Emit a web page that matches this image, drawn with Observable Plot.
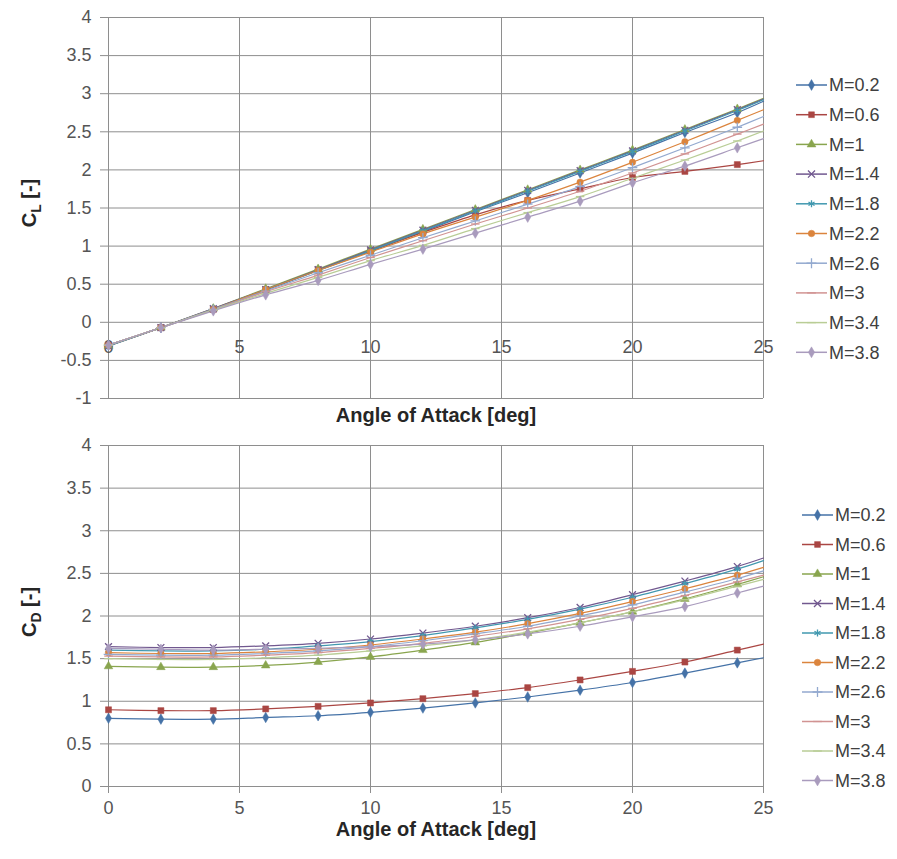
<!DOCTYPE html>
<html><head><meta charset="utf-8">
<script src="https://cdn.jsdelivr.net/npm/d3@7"></script>
<script src="https://cdn.jsdelivr.net/npm/@observablehq/plot@0.6"></script>
<style>
body{margin:0;background:#fff;}
#chart{width:897px;height:859px;position:relative;background:#fff;}
#chart svg{display:block;}
</style>
</head><body><div id="chart"></div>
<script>
// ---- data ----
const ALPHA = [0, 2, 4, 6, 8, 10, 12, 14, 16, 18, 20, 22, 24, 25];
const MACH = ["M=0.2", "M=0.6", "M=1", "M=1.4", "M=1.8", "M=2.2", "M=2.6", "M=3", "M=3.4", "M=3.8"];
const X_TICKS = [0, 5, 10, 15, 20, 25];
const Y_TICKS_CL = [-1, -0.5, 0, 0.5, 1, 1.5, 2, 2.5, 3, 3.5, 4];
const Y_TICKS_CD = [0, 0.5, 1, 1.5, 2, 2.5, 3, 3.5, 4];

const CL_02 = [-0.30, -0.07, 0.17, 0.42, 0.68, 0.93, 1.19, 1.45, 1.70, 1.96, 2.22, 2.49, 2.75, 2.90];
const CL_06 = [-0.30, -0.07, 0.17, 0.43, 0.69, 0.94, 1.18, 1.41, 1.60, 1.75, 1.90, 1.98, 2.07, 2.12];
const CL_10 = [-0.31, -0.07, 0.18, 0.44, 0.70, 0.96, 1.22, 1.48, 1.74, 2.00, 2.26, 2.53, 2.80, 2.94];
const CL_14 = [-0.31, -0.07, 0.18, 0.43, 0.69, 0.95, 1.21, 1.47, 1.73, 1.99, 2.25, 2.52, 2.79, 2.93];
const CL_18 = [-0.31, -0.07, 0.17, 0.43, 0.68, 0.94, 1.20, 1.46, 1.72, 1.98, 2.24, 2.51, 2.78, 2.92];
const CL_22 = [-0.30, -0.07, 0.17, 0.43, 0.68, 0.92, 1.16, 1.38, 1.60, 1.84, 2.10, 2.37, 2.65, 2.79];
const CL_26 = [-0.30, -0.07, 0.17, 0.41, 0.65, 0.88, 1.11, 1.33, 1.55, 1.78, 2.03, 2.29, 2.56, 2.70];
const CL_30 = [-0.30, -0.07, 0.16, 0.40, 0.62, 0.85, 1.07, 1.29, 1.50, 1.72, 1.96, 2.21, 2.47, 2.60];
const CL_34 = [-0.30, -0.07, 0.16, 0.38, 0.59, 0.81, 1.01, 1.23, 1.44, 1.65, 1.89, 2.13, 2.38, 2.51];
const CL_38 = [-0.30, -0.07, 0.15, 0.36, 0.55, 0.76, 0.96, 1.17, 1.38, 1.59, 1.83, 2.05, 2.29, 2.41];

const CD_02 = [0.80, 0.79, 0.79, 0.81, 0.83, 0.87, 0.92, 0.98, 1.05, 1.13, 1.22, 1.33, 1.45, 1.51];
const CD_06 = [0.90, 0.89, 0.89, 0.91, 0.94, 0.98, 1.03, 1.09, 1.16, 1.25, 1.35, 1.46, 1.60, 1.67];
const CD_10 = [1.41, 1.40, 1.40, 1.42, 1.46, 1.52, 1.60, 1.69, 1.80, 1.92, 2.05, 2.20, 2.37, 2.46];
const CD_14 = [1.64, 1.63, 1.63, 1.65, 1.68, 1.73, 1.80, 1.88, 1.98, 2.10, 2.25, 2.41, 2.58, 2.68];
const CD_18 = [1.60, 1.59, 1.59, 1.61, 1.65, 1.70, 1.77, 1.86, 1.96, 2.08, 2.22, 2.38, 2.55, 2.65];
const CD_22 = [1.57, 1.56, 1.56, 1.58, 1.61, 1.66, 1.73, 1.81, 1.91, 2.03, 2.17, 2.32, 2.48, 2.57];
const CD_26 = [1.55, 1.54, 1.54, 1.56, 1.59, 1.64, 1.71, 1.79, 1.88, 2.00, 2.13, 2.28, 2.44, 2.53];
const CD_30 = [1.53, 1.52, 1.52, 1.54, 1.57, 1.62, 1.68, 1.76, 1.85, 1.96, 2.09, 2.24, 2.40, 2.48];
const CD_34 = [1.50, 1.49, 1.49, 1.51, 1.54, 1.59, 1.65, 1.72, 1.81, 1.92, 2.05, 2.19, 2.35, 2.43];
const CD_38 = [1.62, 1.61, 1.60, 1.61, 1.62, 1.64, 1.67, 1.72, 1.79, 1.88, 1.99, 2.11, 2.27, 2.35];

const CL_SERIES = [CL_02, CL_06, CL_10, CL_14, CL_18, CL_22, CL_26, CL_30, CL_34, CL_38];
const CD_SERIES = [CD_02, CD_06, CD_10, CD_14, CD_18, CD_22, CD_26, CD_30, CD_34, CD_38];

// ---- styles ----
const COLORS = ["#4572A7", "#AA4643", "#89A54E", "#71588F", "#4198AF", "#DB843D", "#93A9CF", "#D19392", "#B9CD96", "#A99BBD"];
const dash = {draw(ctx, size) { const w = Math.sqrt(size) * 0.75; ctx.moveTo(-w, 0); ctx.lineTo(w, 0); }};
const SYMBOLS = ["diamond", "square", "triangle", "times", "asterisk", "circle", "plus", dash, dash, "diamond"];
const D3SYM = {diamond: d3.symbolDiamond, square: d3.symbolSquare, triangle: d3.symbolTriangle, times: d3.symbolTimes,
  asterisk: d3.symbolAsterisk, circle: d3.symbolCircle, plus: d3.symbolPlus};
const isFilled = s => s === "diamond" || s === "square" || s === "triangle" || s === "circle";
const GRID = "#8e8e8e";
const FONT = "Liberation Sans, Arial, sans-serif";
const TICK_FS = 18;

function rowsFor(seriesList) {
  const rows = [];
  seriesList.forEach((vals, i) => vals.forEach((v, j) => rows.push({s: i, a: ALPHA[j], v})));
  return rows;
}

function seriesMarks(rows) {
  const marks = [];
  MACH.forEach((m, i) => {
    const r = rows.filter(d => d.s === i);
    marks.push(Plot.line(r, {x: "a", y: "v", stroke: COLORS[i], strokeWidth: 1.2, curve: "catmull-rom"}));
  });
  MACH.forEach((m, i) => {
    const r = rows.filter(d => d.s === i && d.a % 2 === 0);
    const sym = SYMBOLS[i];
    const f = isFilled(sym);
    marks.push(Plot.dot(r, {x: "a", y: "v", symbol: sym, r: sym === "square" ? 3.4 : 3.2,
      fill: f ? COLORS[i] : "none", stroke: COLORS[i], strokeWidth: f ? 0.5 : 1.3}));
  });
  return marks;
}

function addLegend(svg, x0, y0, step) {
  const g = d3.select(svg).append("g").attr("font-family", FONT).attr("font-size", 18).attr("text-anchor", "start");
  MACH.forEach((m, i) => {
    const y = y0 + i * step;
    const e = g.append("g").attr("transform", `translate(${x0},${y})`);
    e.append("line").attr("x1", 0).attr("x2", 31).attr("stroke", COLORS[i]).attr("stroke-width", 1.5);
    const sym = SYMBOLS[i];
    const f = isFilled(sym);
    const type = typeof sym === "string" ? D3SYM[sym] : sym;
    e.append("path").attr("transform", "translate(15.5,0)")
      .attr("d", d3.symbol(type, 34)())
      .attr("fill", f ? COLORS[i] : "none").attr("stroke", COLORS[i]).attr("stroke-width", f ? 0.5 : 1.3);
    e.append("text").attr("x", 33).attr("dy", "0.35em").attr("fill", "#404040").text(m);
  });
}

function addYLabel(svg, x, y, sub) {
  const t = d3.select(svg).append("text")
    .attr("transform", `translate(${x},${y}) rotate(-90)`)
    .attr("text-anchor", "middle").attr("font-family", FONT).attr("font-weight", "bold")
    .attr("font-size", 20).attr("fill", "#262626");
  t.append("tspan").text("C");
  t.append("tspan").attr("font-size", 14).attr("dy", 5).text(sub);
  t.append("tspan").attr("dy", -5).text(" [-]");
}

const container = document.getElementById("chart");

// ---- top chart: C_L ----
const clChart = Plot.plot({
  width: 897, height: 430,
  marginLeft: 108, marginRight: 134, marginTop: 17, marginBottom: 32,
  style: {fontFamily: FONT, fontSize: TICK_FS + "px", color: "#555", background: "#fff"},
  x: {domain: [0, 25], axis: null},
  y: {domain: [-1, 4], axis: null},
  marks: [
    Plot.gridY(Y_TICKS_CL, {stroke: GRID, strokeOpacity: 1, strokeWidth: 1}),
    Plot.gridX(X_TICKS, {stroke: GRID, strokeOpacity: 1, strokeWidth: 1}),
    Plot.axisY(Y_TICKS_CL, {tickSize: 8, tickPadding: 9, tickFormat: d => String(d), label: null, stroke: GRID, fill: "#555"}),
    Plot.text(X_TICKS, {x: d => d, y: 0, dy: 25, text: d => String(d), fill: "#555"}),
    Plot.text(["Angle of Attack [deg]"], {frameAnchor: "bottom", dy: 23, fontWeight: "bold", fontSize: 20, fill: "#262626"}),
    ...seriesMarks(rowsFor(CL_SERIES))
  ]
});
addYLabel(clChart, 36, 203, "L");
addLegend(clChart, 796, 85, 29.7);
container.appendChild(clChart);

// ---- bottom chart: C_D ----
const cdChart = Plot.plot({
  width: 897, height: 429,
  marginLeft: 108, marginRight: 134, marginTop: 15, marginBottom: 73,
  style: {fontFamily: FONT, fontSize: TICK_FS + "px", color: "#555", background: "#fff"},
  x: {domain: [0, 25], axis: null},
  y: {domain: [0, 4], axis: null},
  marks: [
    Plot.gridY(Y_TICKS_CD, {stroke: GRID, strokeOpacity: 1, strokeWidth: 1}),
    Plot.gridX(X_TICKS, {stroke: GRID, strokeOpacity: 1, strokeWidth: 1}),
    Plot.axisY(Y_TICKS_CD, {tickSize: 8, tickPadding: 9, tickFormat: d => String(d), label: null, stroke: GRID, fill: "#555"}),
    Plot.axisX(X_TICKS, {tickSize: 7, tickPadding: 8, tickFormat: d => String(d), label: null, stroke: GRID, fill: "#555"}),
    Plot.text(["Angle of Attack [deg]"], {frameAnchor: "bottom", dy: 49, fontWeight: "bold", fontSize: 20, fill: "#262626"}),
    ...seriesMarks(rowsFor(CD_SERIES))
  ]
});
addYLabel(cdChart, 36, 182, "D");
addLegend(cdChart, 802, 85, 29.5);
container.appendChild(cdChart);
</script>
</body></html>
